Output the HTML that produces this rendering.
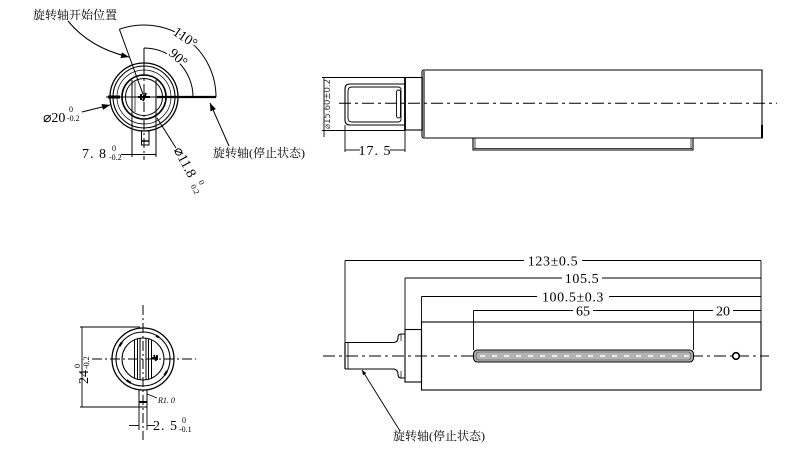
<!DOCTYPE html>
<html><head><meta charset="utf-8"><style>
html,body{margin:0;padding:0;background:#fff;}
svg{display:block;}
text{font-family:"Liberation Serif","Noto Serif CJK SC",serif;fill:#000;stroke:none;}
.cn{font-family:"Liberation Serif","Noto Serif CJK SC","Noto Sans CJK SC",serif;font-size:12px;}
.d{font-size:14px;}
.s{font-size:8px;}
</style></head><body>
<svg width="810" height="469" viewBox="0 0 810 469" xmlns="http://www.w3.org/2000/svg">
<defs>
<marker id="ar" markerWidth="8" markerHeight="6" refX="8" refY="3" orient="auto" markerUnits="userSpaceOnUse"><path d="M0,0 L8,3 L0,6z" fill="#000"/></marker>
<marker id="sa" markerWidth="5" markerHeight="4" refX="5" refY="2" orient="auto" markerUnits="userSpaceOnUse"><path d="M0,0 L5,2 L0,4z" fill="#000"/></marker>
<clipPath id="disc"><circle cx="143" cy="359" r="21"/></clipPath>
</defs>

<!-- ================= TOP-LEFT VIEW ================= -->
<g fill="none" stroke="#000" stroke-width="1">
  <circle cx="144" cy="97" r="34" stroke-width="1.3"/>
  <circle cx="144" cy="97" r="31" stroke-width="1.1"/>
  <circle cx="144" cy="97" r="27" stroke-width="0.7"/>
  <circle cx="144" cy="97" r="22" stroke-width="1.6"/>
  <circle cx="144" cy="97" r="18.5" stroke-width="1"/>
  <line x1="132" y1="80" x2="132" y2="157"/>
  <line x1="156" y1="80" x2="156" y2="157"/>
  <line x1="135" y1="82" x2="135" y2="112" stroke-width="0.7"/>
  <rect x="141.5" y="131" width="7.5" height="14" stroke-width="1"/>
  <line x1="141.5" y1="141" x2="149" y2="141" stroke-width="1.5"/>
  <line x1="144" y1="48" x2="144" y2="66"/>
  <line x1="144" y1="66" x2="144" y2="160" stroke-dasharray="10 3 2 3"/>
  <line x1="106" y1="97" x2="216" y2="97"/>
  <line x1="157" y1="97" x2="216" y2="97" stroke-width="2.2"/>
  <line x1="108" y1="97" x2="120" y2="97" stroke-width="3"/>
  <path d="M138,97 h12 M141,94 v6 M146,93 l-3,8" stroke-width="2"/>
  <path d="M144,48 A49,49 0 0 1 193,97"/>
  <path d="M119.4,29.3 A72,72 0 0 1 216,97"/>
  <line x1="119.4" y1="29.3" x2="144" y2="97"/>
  <path d="M68,21 Q90,48 129,57" marker-end="url(#ar)"/>
  <line x1="82" y1="112" x2="110" y2="105" marker-end="url(#ar)"/>
  <line x1="229" y1="146" x2="210" y2="103" marker-end="url(#ar)"/>
  <line x1="157" y1="118" x2="176" y2="148"/>
  <line x1="121" y1="154.5" x2="156" y2="154.5"/>
</g>
<text class="cn" x="33" y="19">旋转轴开始位置</text>
<text class="d" x="185" y="42" text-anchor="middle" transform="rotate(34 185 38)" style="stroke:#fff;stroke-width:4;paint-order:stroke">110°</text>
<text class="d" x="178" y="62" text-anchor="middle" transform="rotate(42 178 58)" style="stroke:#fff;stroke-width:4;paint-order:stroke">90°</text>
<text class="d" x="43" y="122">⌀20</text>
<text class="s" x="69" y="112">0</text>
<text class="s" x="67" y="121">-0.2</text>
<text class="d" x="82" y="158" letter-spacing="1">7. 8</text>
<text class="s" x="112" y="151">0</text>
<text class="s" x="109" y="160">-0.2</text>
<g transform="translate(177,148) rotate(62)">
  <text class="d" x="0" y="4">⌀11.8</text>
  <text class="s" x="40" y="-3">0</text>
  <text class="s" x="40" y="6">0.2</text>
</g>
<text class="cn" x="213" y="157">旋转轴(停止状态)</text>

<!-- ================= TOP-RIGHT VIEW ================= -->
<g fill="none" stroke="#000" stroke-width="1">
  <path d="M424,70 H762 V138 H424 Q422,138 422,136 V72 Q422,70 424,70z" stroke-width="1.1"/>
  <rect x="422" y="71" width="3" height="66" fill="#777" stroke="none"/>
  <line x1="762" y1="125" x2="762" y2="138" stroke-width="2"/>
  <path d="M473,138 V150 H693 V138" stroke-width="1.1"/>
  <line x1="474" y1="148.5" x2="692" y2="148.5" stroke-width="0.7"/>
  <line x1="475" y1="138" x2="475" y2="149" stroke-width="0.7"/>
  <line x1="691" y1="138" x2="691" y2="149" stroke-width="0.7"/>
  <rect x="405" y="77.5" width="17" height="52.5" stroke-width="1.1"/>
  <line x1="405" y1="77.5" x2="405" y2="130" stroke-width="1.8"/>
  <path d="M350,84 H405 V125 H350 Q345,125 345,120 V89 Q345,84 350,84z" stroke-width="1.1"/>
  <path d="M352,87 H398 Q401,87 401,90 V119 Q401,122 398,122 H352 Q348,122 348,118 V91 Q348,87 352,87z" stroke-width="0.9"/>
  <rect x="396.5" y="90" width="4" height="28" rx="2" stroke-width="0.9"/>
  <line x1="339" y1="103.3" x2="777" y2="103.3" stroke-dasharray="12 4 3 4"/>
  <line x1="322" y1="77.5" x2="405" y2="77.5" stroke-width="0.9"/>
  <line x1="322" y1="130.5" x2="405" y2="130.5" stroke-width="0.9"/>
  <line x1="324" y1="77" x2="324" y2="137" stroke-width="0.9"/>
  <line x1="345" y1="125" x2="345" y2="152" stroke-width="0.9"/>
  <line x1="405" y1="130" x2="405" y2="152" stroke-width="0.9"/>
  <line x1="345" y1="150" x2="360" y2="150" stroke-width="0.9"/>
  <line x1="390" y1="150" x2="405" y2="150" stroke-width="0.9"/>
</g>
<text x="330" y="104" font-size="8.5" text-anchor="middle" transform="rotate(-90 330 104)" style="font-family:'DejaVu Sans','Liberation Sans',sans-serif;fill:#333">⌀15.60±0.2</text>
<text class="d" x="375" y="155" text-anchor="middle" letter-spacing="1">17. 5</text>

<!-- ================= BOTTOM-LEFT VIEW ================= -->
<g fill="none" stroke="#000" stroke-width="1">
  <circle cx="143" cy="359" r="31" stroke-width="1.3"/>
  <circle cx="143" cy="359" r="27" stroke-width="1.1"/>
  <circle cx="143" cy="359" r="21" stroke-width="1.1"/>
  <g stroke-width="2.2" stroke-dasharray="5 37.4" stroke-dashoffset="2">
    <circle cx="143" cy="359" r="26.8" transform="rotate(-60 143 359)"/>
  </g>
  <g clip-path="url(#disc)" stroke-width="1">
    <line x1="134.5" y1="330" x2="134.5" y2="390"/>
    <line x1="137.5" y1="330" x2="137.5" y2="390"/>
    <line x1="140" y1="330" x2="140" y2="390"/>
    <line x1="146" y1="330" x2="146" y2="390"/>
    <line x1="148.5" y1="330" x2="148.5" y2="390"/>
    <line x1="151.5" y1="330" x2="151.5" y2="390"/>
  </g>
  <path d="M152,358 h6 M154,355 l2,6 M157,355 v5" stroke-width="1.8"/>
  <rect x="139" y="390" width="8" height="17" stroke-width="1"/>
  <line x1="139" y1="402" x2="147" y2="402" stroke-width="2"/>
  <line x1="143" y1="305" x2="143" y2="440" stroke-dasharray="10 3 2 3"/>
  <line x1="92" y1="359" x2="196" y2="359" stroke-dasharray="10 3 2 3"/>
  <line x1="80" y1="327" x2="140" y2="327" stroke-width="0.9"/>
  <line x1="80" y1="407" x2="139" y2="407" stroke-width="0.9"/>
  <line x1="82" y1="327" x2="82" y2="407" stroke-width="0.9"/>
  <line x1="147" y1="394" x2="157" y2="398" stroke-width="0.8"/>
  <line x1="139" y1="407" x2="139" y2="430" stroke-width="0.9"/>
  <line x1="147" y1="407" x2="147" y2="430" stroke-width="0.9"/>
  <line x1="129" y1="425.5" x2="139" y2="425.5" stroke-width="0.9"/>
  <line x1="147" y1="425.5" x2="155" y2="425.5" stroke-width="0.9"/>
</g>
<g transform="translate(88,384) rotate(-90)">
  <text class="d" x="0" y="0">24</text>
  <text class="s" x="16" y="-8">0</text>
  <text class="s" x="15" y="1">-0.2</text>
</g>
<text x="158" y="403" font-size="8" font-style="italic">R1. 0</text>
<text class="d" x="153" y="430" letter-spacing="1">2. 5</text>
<text class="s" x="182" y="423">0</text>
<text class="s" x="179" y="432">-0.1</text>

<!-- ================= BOTTOM-RIGHT VIEW ================= -->
<g fill="none" stroke="#000" stroke-width="1">
  <rect x="421.5" y="322" width="339.5" height="68" stroke-width="1.1"/>
  <rect x="405" y="329.5" width="16.5" height="52.5" stroke-width="1.1"/>
  <path d="M345,342.5 H394 Q398,342 398,338 Q398,334 401,334 H405 M345,369 H394 Q398,370 398,374 Q398,378 401,378 H405" stroke-width="1.1"/>
  <line x1="345" y1="342.5" x2="345" y2="369" stroke-width="1.2"/>
  <line x1="348" y1="342.5" x2="348" y2="369" stroke-width="0.8"/>
  <line x1="401" y1="334" x2="401" y2="341" stroke-width="0.7"/>
  <line x1="401" y1="371" x2="401" y2="378" stroke-width="0.7"/>
  <line x1="323" y1="356" x2="769" y2="356" stroke-dasharray="12 4 3 4"/>
  <rect x="473.5" y="350" width="220" height="12" rx="4" fill="#b4b4b4" stroke-width="1.1"/>
  <rect x="476" y="352" width="215" height="8" rx="3" stroke-width="0.6" stroke="#444"/>
  <line x1="480" y1="356" x2="690" y2="356" stroke="#fff" stroke-width="1.6" stroke-dasharray="5 7"/>
  <circle cx="736" cy="356" r="3.3" fill="#fff" stroke-width="1.6"/>
  <line x1="345" y1="260.5" x2="345" y2="342.5" stroke-width="0.9"/>
  <line x1="405" y1="278" x2="405" y2="329.5" stroke-width="0.9"/>
  <line x1="421.5" y1="296.5" x2="421.5" y2="322" stroke-width="0.9"/>
  <line x1="473.5" y1="310.5" x2="473.5" y2="350" stroke-width="0.9"/>
  <line x1="693.5" y1="310.5" x2="693.5" y2="350" stroke-width="0.9"/>
  <line x1="761" y1="260.5" x2="761" y2="322" stroke-width="0.9"/>
  <line x1="345" y1="260.5" x2="761" y2="260.5" stroke-width="0.9"/>
  <line x1="405" y1="278" x2="761" y2="278" stroke-width="0.9"/>
  <line x1="421.5" y1="296.5" x2="761" y2="296.5" stroke-width="0.9"/>
  <line x1="473.5" y1="310.5" x2="761" y2="310.5" stroke-width="0.9"/>
  <line x1="400" y1="431" x2="362" y2="370" marker-end="url(#sa)" stroke-width="0.9"/>
</g>
<g class="d" text-anchor="middle">
  <rect x="524" y="253" width="58" height="14" fill="#fff"/>
  <text x="553" y="265.5" letter-spacing="0.6">123±0.5</text>
  <rect x="562" y="271" width="40" height="14" fill="#fff"/>
  <text x="582" y="283" letter-spacing="0.6">105.5</text>
  <rect x="537" y="289" width="72" height="14" fill="#fff"/>
  <text x="573" y="301.5" letter-spacing="0.6">100.5±0.3</text>
  <rect x="573" y="303" width="20" height="14" fill="#fff"/>
  <text x="583" y="315.5">65</text>
  <rect x="713" y="303" width="20" height="14" fill="#fff"/>
  <text x="723" y="315.5">20</text>
</g>
<text class="cn" x="393" y="440">旋转轴(停止状态)</text>
</svg>
</body></html>
